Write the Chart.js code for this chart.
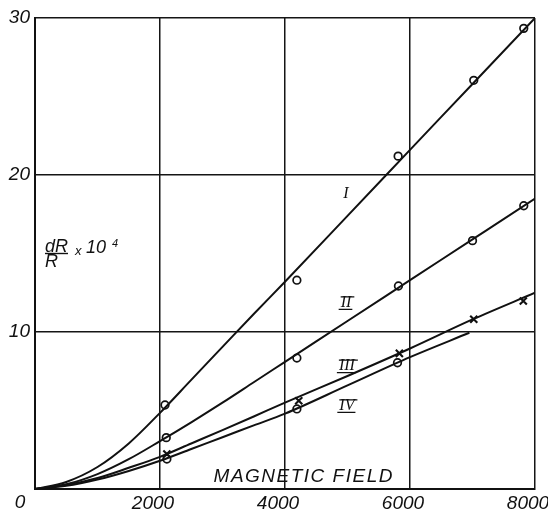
<!DOCTYPE html>
<html>
<head>
<meta charset="utf-8">
<script src="https://cdn.jsdelivr.net/npm/chart.js@4/dist/chart.umd.min.js"></script>
<style>
  html, body { margin: 0; padding: 0; background: #fff; }
  canvas { display: block; }
</style>
</head>
<body>
<canvas id="c" width="548" height="510"></canvas>
<script>
// ---- data ----
const xTicks = [0, 2000, 4000, 6000, 8000];
const yTicks = [0, 10, 20, 30];
const xAxisTitle = 'MAGNETIC FIELD';
const curveLabels = ['I', 'II', 'III', 'IV'];

// fitted curves
const curveX   = [0, 500, 1000, 1500, 2000, 2500, 3000, 3500, 4000, 5000, 6000, 7000, 8000];
const curveI   = [0, 0.45, 1.4, 2.9, 4.85, 6.95, 9.05, 11.15, 13.2, 17.4, 21.6, 25.8, 30.0];
const curveII  = [0, 0.3, 0.95, 1.9, 3.05, 4.25, 5.5, 6.8, 8.1, 10.7, 13.3, 15.9, 18.5];
const curveIII = [0, 0.25, 0.7, 1.35, 2.05, 2.9, 3.75, 4.62, 5.5, 7.2, 8.95, 10.8, 12.5];
const curveIVx = [0, 500, 1000, 1500, 2000, 2500, 3000, 3500, 4000, 5000, 6000, 6950];
const curveIV  = [0, 0.2, 0.6, 1.15, 1.8, 2.55, 3.3, 4.05, 4.8, 6.6, 8.4, 9.95];

// measured points
const ptsIx   = [2080, 4190, 5810, 7020, 7820];
const ptsIy   = [5.35, 13.3, 21.2, 26.03, 29.34];
const ptsIIx  = [2100, 4190, 5815, 7000, 7820];
const ptsIIy  = [3.27, 8.34, 12.93, 15.82, 18.04];
const ptsIIIx = [2110, 4220, 5830, 7020, 7813];
const ptsIIIy = [2.23, 5.62, 8.64, 10.81, 11.97];
const ptsIVx  = [2110, 4190, 5800];
const ptsIVy  = [1.91, 5.1, 8.04];

// label anchor positions (data coordinates)
const labelX = [4976, 4976, 4990, 4990];
const labelY = [18.8, 11.85, 7.83, 5.29];

// ---- build datasets ----
const zip = (xs, ys) => xs.map((x, i) => ({ x: x, y: ys[i] })).filter(p => p.y !== undefined);

function curveDs(xs, ys) {
  return {
    type: 'line',
    data: zip(xs, ys),
    borderColor: '#111',
    borderWidth: 2,
    pointRadius: 0,
    fill: false,
    cubicInterpolationMode: 'monotone'
  };
}
function pointDs(xs, ys, style) {
  return {
    type: 'scatter',
    data: zip(xs, ys),
    showLine: false,
    pointStyle: style,
    pointRadius: style === 'circle' ? 3.8 : 5,
    pointBackgroundColor: '#fff',
    pointBorderColor: '#111',
    pointBorderWidth: style === 'circle' ? 1.7 : 2.1
  };
}

const textPlugin = {
  id: 'texts',
  afterDraw(chart) {
    const ctx = chart.ctx;
    const xs = chart.scales.x, ys = chart.scales.y;
    const area = chart.chartArea;
    ctx.save();
    ctx.fillStyle = '#111';
    ctx.strokeStyle = '#111';

    // origin label "0"
    ctx.font = 'italic 19px "Liberation Sans"';
    ctx.textAlign = 'center';
    ctx.textBaseline = 'alphabetic';
    ctx.fillText('0', xs.getPixelForValue(0) - 15, ys.getPixelForValue(0) + 19);

    // x axis title inside plot
    ctx.font = 'italic 19px "Liberation Sans"';
    if ('letterSpacing' in ctx) ctx.letterSpacing = '1.5px';
    ctx.textAlign = 'center';
    ctx.fillText(xAxisTitle, (xs.getPixelForValue(2900) + xs.getPixelForValue(5700)) / 2, area.bottom - 7);
    if ('letterSpacing' in ctx) ctx.letterSpacing = '0px';

    // y axis label dR/R x 10^4
    const lx = area.left + 10, ly = area.top + 234;
    ctx.textAlign = 'left';
    ctx.font = 'italic 18px "Liberation Sans"';
    ctx.fillText('dR', lx, ly);
    ctx.lineWidth = 1.4;
    ctx.beginPath();
    ctx.moveTo(lx, ly + 1.5);
    ctx.lineTo(lx + 23, ly + 1.5);
    ctx.stroke();
    ctx.fillText('R', lx, ly + 15);
    ctx.font = 'italic 13px "Liberation Sans"';
    ctx.fillText('x', lx + 30, ly + 3);
    ctx.font = 'italic 18px "Liberation Sans"';
    ctx.fillText('10', lx + 41, ly + 1);
    ctx.font = 'italic 11px "Liberation Sans"';
    ctx.fillText('4', lx + 67, ly - 5);

    // roman numeral curve labels
    ctx.font = 'italic 16px "Liberation Serif"';
    ctx.textAlign = 'center';
    ctx.textBaseline = 'middle';
    curveLabels.forEach((t, i) => {
      const px = xs.getPixelForValue(labelX[i]);
      const py = ys.getPixelForValue(labelY[i]);
      ctx.fillText(t, px, py);
      if (i > 0) {
        const w = ctx.measureText(t).width;
        ctx.lineWidth = 1.2;
        ctx.beginPath();
        ctx.moveTo(px - w / 2 - 2, py + 6.5);
        ctx.lineTo(px + w / 2 + 1, py + 6.5);
        ctx.moveTo(px - w / 2, py - 6);
        ctx.lineTo(px + w / 2 + 3, py - 6);
        ctx.stroke();
      }
    });
    ctx.restore();
  }
};

const bgPlugin = {
  id: 'bg',
  beforeDraw(chart) {
    const ctx = chart.ctx;
    ctx.save();
    ctx.fillStyle = '#fff';
    ctx.fillRect(0, 0, chart.width, chart.height);
    ctx.restore();
  }
};

new Chart(document.getElementById('c'), {
  data: {
    datasets: [
      curveDs(curveX, curveI), curveDs(curveX, curveII), curveDs(curveX, curveIII), curveDs(curveIVx, curveIV),
      pointDs(ptsIx, ptsIy, 'circle'),
      pointDs(ptsIIx, ptsIIy, 'circle'),
      pointDs(ptsIIIx, ptsIIIy, 'crossRot'),
      pointDs(ptsIVx, ptsIVy, 'circle')
    ]
  },
  options: {
    responsive: false,
    animation: false,
    layout: { padding: { left: 0, right: 13, top: 18, bottom: 0 } },
    plugins: { legend: { display: false }, tooltip: { enabled: false } },
    scales: {
      x: {
        type: 'linear',
        min: xTicks[0], max: xTicks[xTicks.length - 1],
        afterBuildTicks: s => { s.ticks = xTicks.map(v => ({ value: v })); },
        afterFit: s => { s.height = 21; s.paddingLeft = 0; s.paddingRight = 0; },
        grid: { color: '#151515', lineWidth: 1.5, drawTicks: false },
        border: { color: '#111', width: 2 },
        ticks: {
          color: '#111', padding: 3, labelOffset: -7, maxRotation: 0,
          font: { family: '"Liberation Sans"', size: 19, style: 'italic' },
          callback: v => (v === 0 ? '' : String(v))
        }
      },
      y: {
        type: 'linear',
        min: yTicks[0], max: yTicks[yTicks.length - 1],
        afterBuildTicks: s => { s.ticks = yTicks.map(v => ({ value: v })); },
        afterFit: s => { s.width = 35; s.paddingTop = 0; s.paddingBottom = 0; },
        grid: { color: '#151515', lineWidth: 1.5, drawTicks: false },
        border: { color: '#111', width: 2 },
        ticks: {
          color: '#111', padding: 5,
          font: { family: '"Liberation Sans"', size: 19, style: 'italic' },
          callback: v => (v === 0 ? '' : String(v))
        }
      }
    }
  },
  plugins: [bgPlugin, textPlugin]
});
</script>
</body>
</html>
